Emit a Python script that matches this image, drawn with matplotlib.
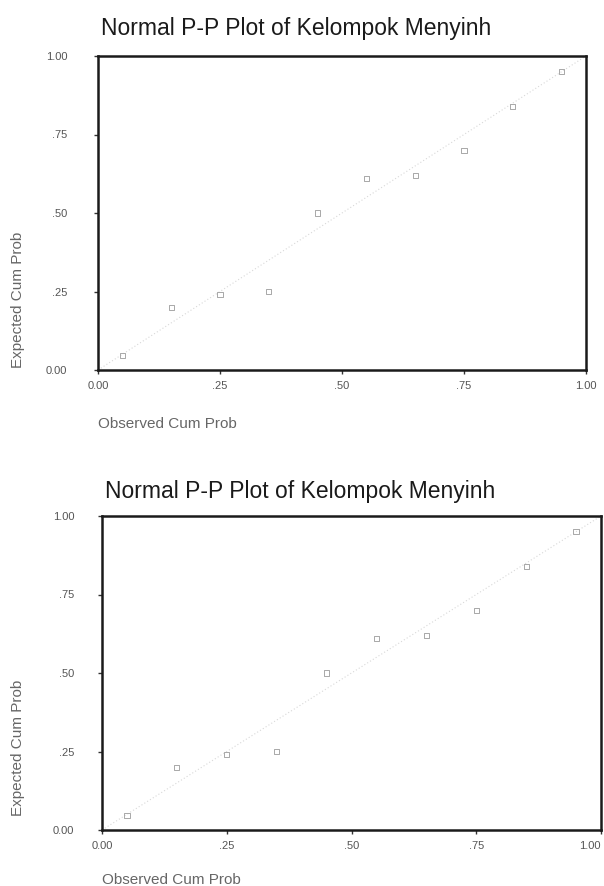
import matplotlib
matplotlib.use("Agg")
import matplotlib.pyplot as plt

plt.rcParams['font.family'] = ['Liberation Sans', 'DejaVu Sans']

title_text = "Normal P-P Plot of Kelompok Menyinh"
x_label = "Observed Cum Prob"
y_label = "Expected Cum Prob"
tick_values = [0.0, 0.25, 0.50, 0.75, 1.0]
tick_labels = ["0.00", ".25", ".50", ".75", "1.00"]

observed = [0.05, 0.15, 0.25, 0.35, 0.45, 0.55, 0.65, 0.75, 0.85, 0.95]
expected = [0.045, 0.20, 0.24, 0.25, 0.50, 0.61, 0.62, 0.70, 0.84, 0.95]

W, H = 604, 886
fig = plt.figure(figsize=(W / 100, H / 100), dpi=100)
fig.patch.set_facecolor('white')

panels = [
    dict(l=98, r=586, t=56, b=370, ty=28, xly=424, ylx=18, ylcy=300, pad=19),
    dict(l=102, r=601, t=516, b=830, ty=492, xly=880, ylx=18, ylcy=748, pad=17),
]

for i, p in enumerate(panels):
    ax = fig.add_axes([p['l'] / W, 1 - p['b'] / H, (p['r'] - p['l']) / W, (p['b'] - p['t']) / H])
    ax.set_xlim(0, 1)
    ax.set_ylim(0, 1)
    ax.plot([0, 1], [0, 1], color='#d8d8d8', lw=0.8, ls=(0, (1, 2)), zorder=1)
    ax.scatter(observed, expected, marker='s', s=14, facecolors='none',
               edgecolors='#a8a8a8', linewidths=0.7, zorder=2)
    for s in ax.spines.values():
        s.set_linewidth(1.8)
        s.set_color('#1a1a1a')
    ax.set_xticks(tick_values)
    ax.set_xticklabels(tick_labels)
    ax.set_yticks(tick_values)
    ax.set_yticklabels(tick_labels)
    ax.tick_params(axis='x', direction='out', length=3, width=1, colors='#333333',
                   labelsize=8, pad=5, labelcolor='#555555')
    ax.tick_params(axis='y', direction='out', length=3, width=1, colors='#333333',
                   labelsize=8, pad=p['pad'], labelcolor='#555555')
    if i == 1:
        ax.get_xticklabels()[-1].set_horizontalalignment('right')
    fig.text(p['l'] / W + 0.005, 1 - p['ty'] / H, title_text, fontsize=16.5,
             color='#1a1a1a', ha='left', va='center')
    fig.text(p['l'] / W, 1 - p['xly'] / H, x_label, fontsize=11,
             color='#666666', ha='left', va='center')
    fig.text(p['ylx'] / W, 1 - p['ylcy'] / H, y_label, fontsize=11,
             color='#666666', ha='center', va='center', rotation=90)

fig.savefig("out.png", dpi=100, facecolor='white')
